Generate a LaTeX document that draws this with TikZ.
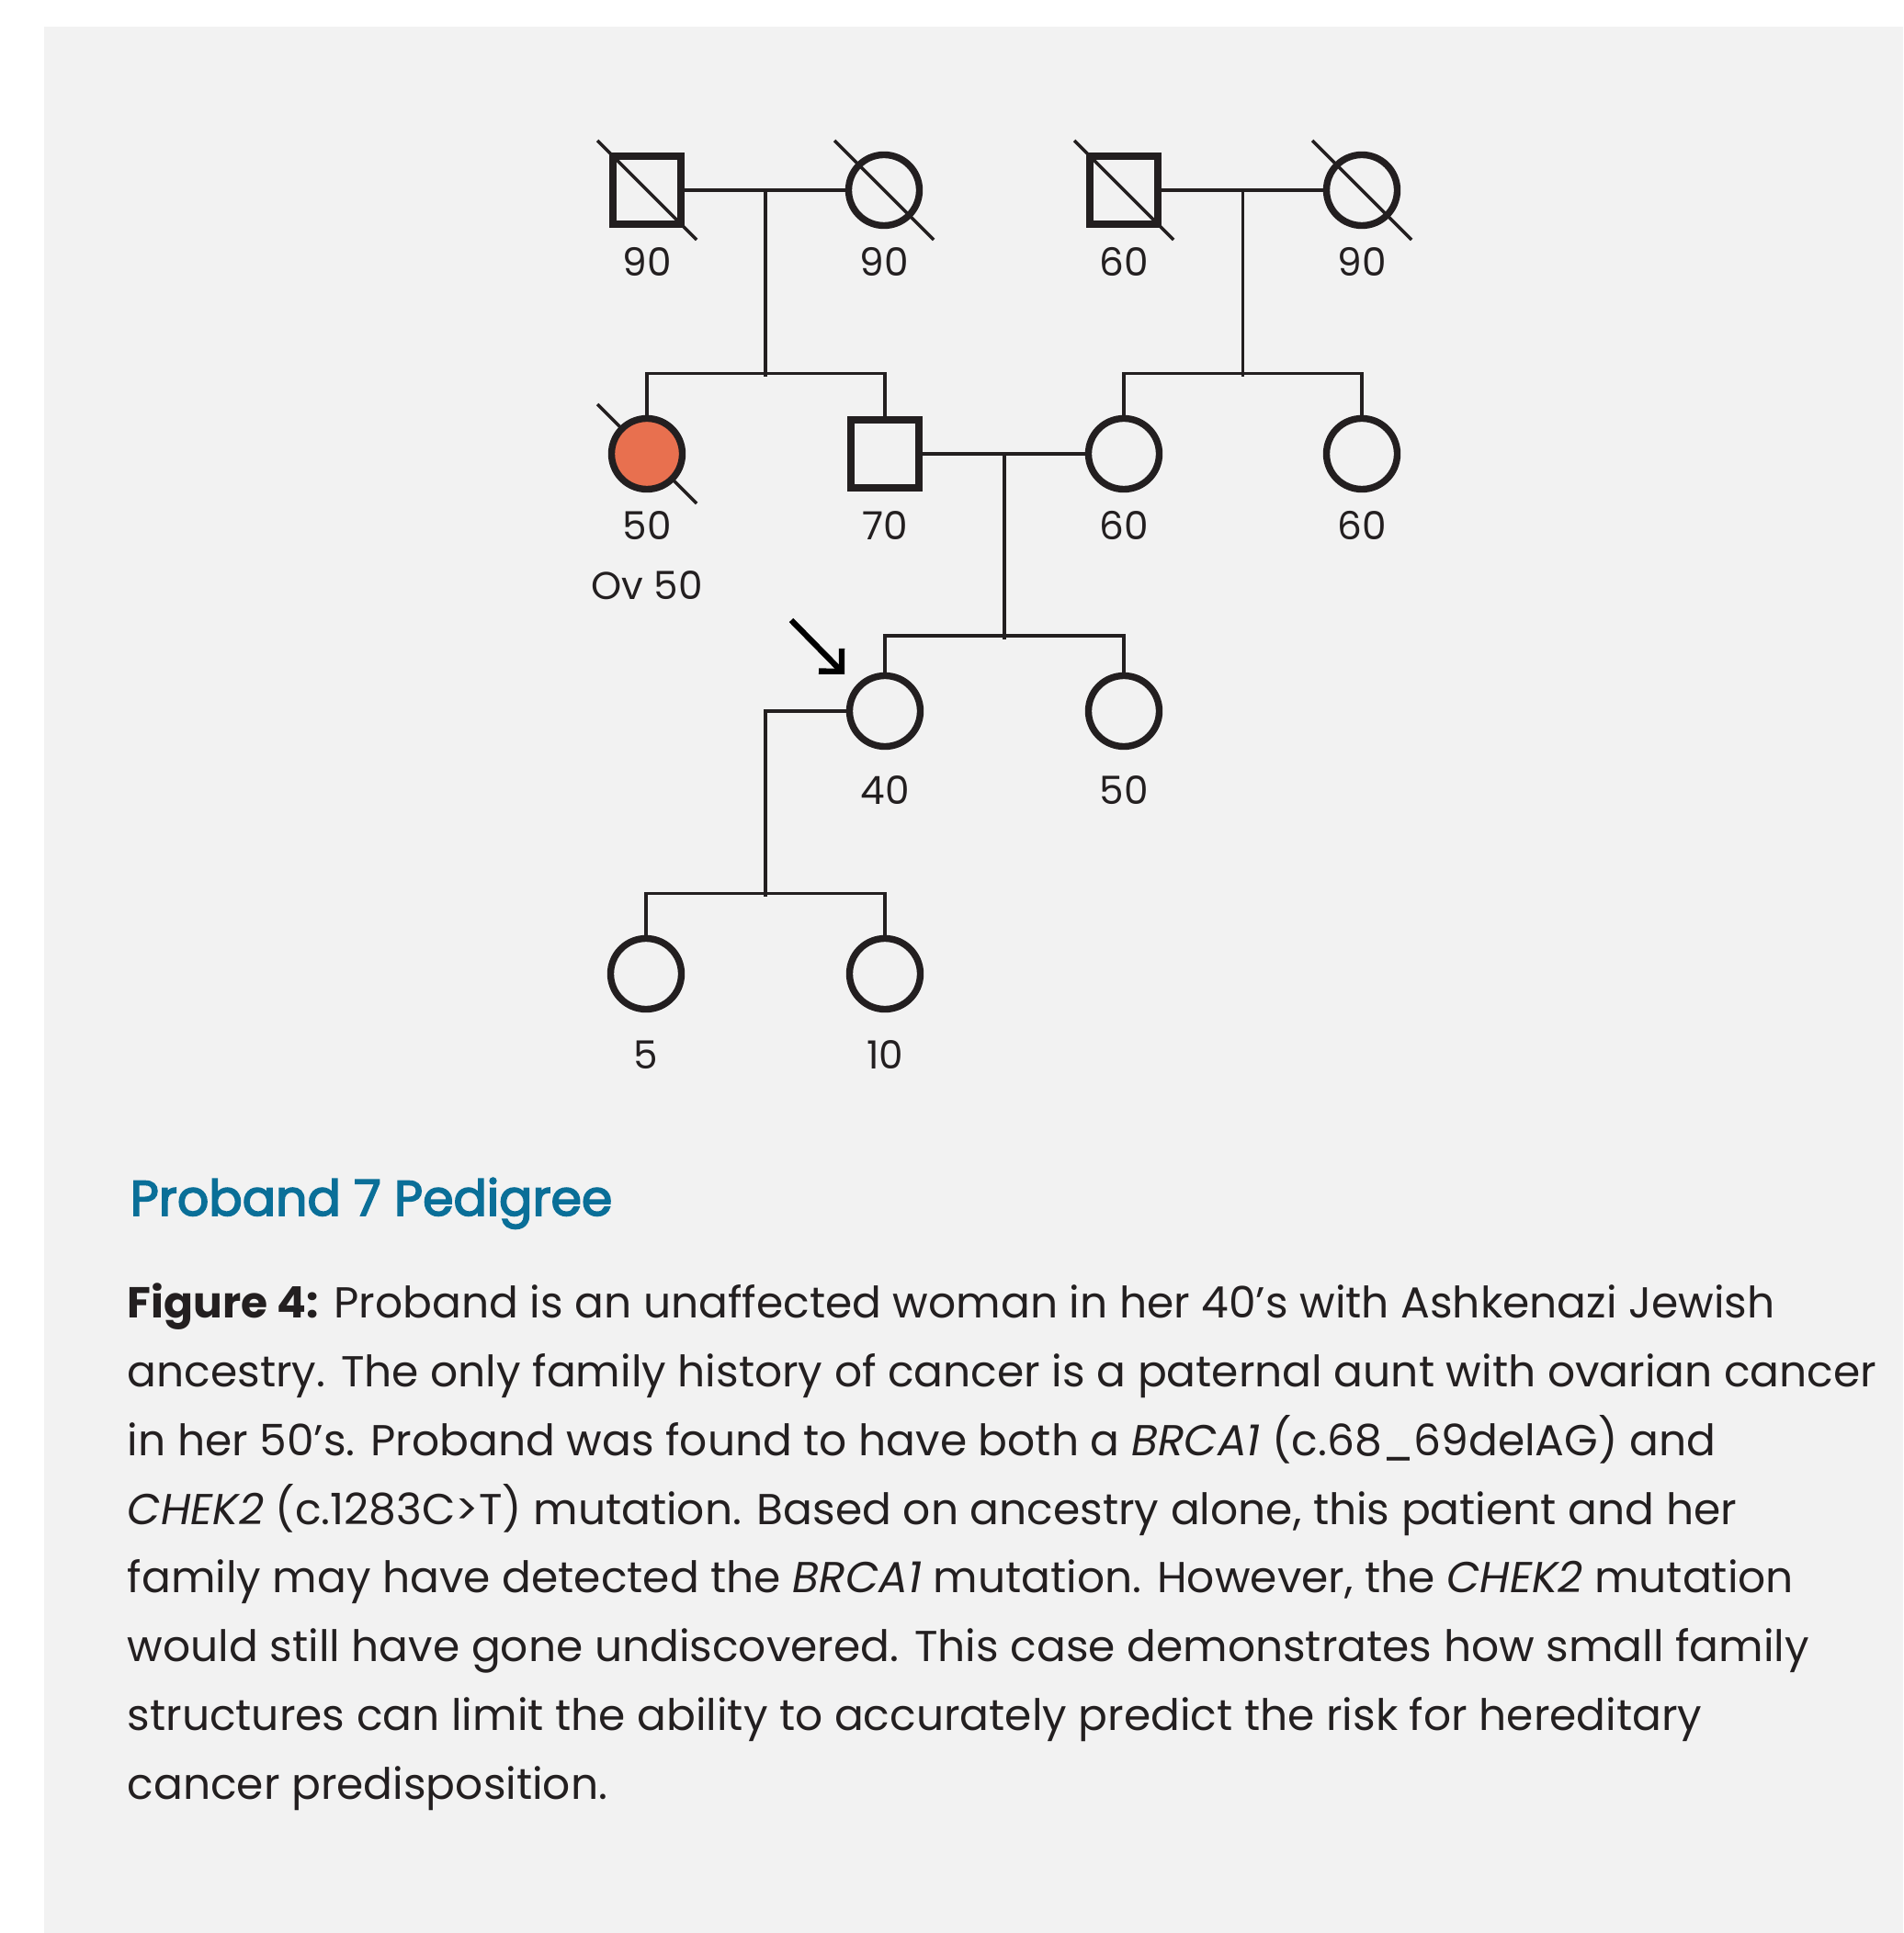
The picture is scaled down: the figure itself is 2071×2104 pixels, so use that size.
\documentclass[tikz,border=0pt]{standalone}
\usepackage{fontspec}
\setmainfont{Poppins}
\newfontfamily\headfont{Poppins}[FakeBold=3]
\usepackage{xcolor}
\usepackage{tikz}
\usetikzlibrary{calc,arrows.meta,backgrounds}
\definecolor{paper}{HTML}{F2F2F2}
\definecolor{ink}{HTML}{231F20}
\definecolor{ovorange}{HTML}{E8704F}
\definecolor{titleblue}{HTML}{0A6F98}
\tikzset{
    person/.style={
        draw=ink,
        line width=2.1pt,
        inner sep=0pt
    },
    male/.style={
        person,
        rectangle,
        minimum size=0.74cm
    },
    female/.style={
        person,
        circle,
        minimum size=0.77cm
    },
    affected/.style={
        fill=ovorange
    },
    link/.style={
        draw=ink,
        line width=1pt
    },
    slash/.style={
        draw=ink,
        line width=1pt
    },
    pointer/.style={
        draw=black,
        line width=1.8pt,
        -{Straight Barb[length=5pt,width=10pt,sharp]}
    },
    age/.style={
        text=ink,
        font=\fontsize{12pt}{14pt}\selectfont,
        inner sep=0pt
    },
    heading/.style={
        text=titleblue,
        font=\fontsize{15.3pt}{18pt}\selectfont\headfont,
        inner sep=0pt
    },
    caption/.style={
        text=ink,
        align=left,
        font=\fontsize{13.4pt}{21.25pt}\selectfont,
        inner sep=0pt
    }
}

\begin{document}
\begin{tikzpicture}[x=0.01cm, y=-0.01cm]
\useasboundingbox (0,0) rectangle (2071,2104);

% generation I
\node[male] (gf1) at (704,207) {};
\node[female] (gm1) at (962,207) {};
\node[male] (gf2) at (1223,207) {};
\node[female] (gm2) at (1482,207) {};

% generation II
\node[female, affected] (aunt) at (704,494) {};
\node[male] (dad) at (963,494) {};
\node[female] (mom) at (1223,494) {};
\node[female] (maunt) at (1482,494) {};

% generation III
\node[female] (proband) at (963,774) {};
\node[female] (sister) at (1223,774) {};

% generation IV
\node[female] (kid1) at (703,1060) {};
\node[female] (kid2) at (963,1060) {};

% ages
\node[age] (agegf1) at ($(gf1)+(0,78)$) {90};
\node[age] (agegm1) at ($(gm1)+(0,78)$) {90};
\node[age] (agegf2) at ($(gf2)+(0,78)$) {60};
\node[age] (agegm2) at ($(gm2)+(0,78)$) {90};
\node[age] (ageaunt) at ($(aunt)+(0,78)$) {50};
\node[age] (cancer) at ($(aunt)+(0,143)$) {Ov 50};
\node[age] (agedad) at ($(dad)+(0,78)$) {70};
\node[age] (agemom) at ($(mom)+(0,78)$) {60};
\node[age] (agemaunt) at ($(maunt)+(0,78)$) {60};
\node[age] (ageproband) at ($(proband)+(0,86)$) {40};
\node[age] (agesister) at ($(sister)+(0,86)$) {50};
\node[age] (agekid1) at ($(kid1)+(0,88)$) {5};
\node[age] (agekid2) at ($(kid2)+(0,88)$) {10};

% couples and sibships
\draw[link] (gf1.east) -- (gm1.west);
\draw[link] ($(gf1)!.5!(gm1)$) -- ++(0,203);
\draw[link] (aunt.north) -- ++(0,-45.5) -| (dad.north);
\draw[link] (gf2.east) -- (gm2.west);
\draw[link] ($(gf2)!.5!(gm2)$) -- ++(0,203);
\draw[link] (mom.north) -- ++(0,-45.5) -| (maunt.north);
\draw[link] (dad.east) -- (mom.west);
\draw[link] ($(dad)!.5!(mom)$) -- ++(0,202);
\draw[link] (proband.north) -- ++(0,-40) -| (sister.north);
\draw[link] (proband.west) -| ($(kid1)!.5!(kid2)+(0,-84)$);
\draw[link] (kid1.north) -- ++(0,-45.5) -| (kid2.north);

% proband arrow
\coordinate (arrowtail) at ($(proband)+(-102,-99)$);
\coordinate (arrowtip) at ($(proband)+(-44,-40)$);
\draw[pointer] (arrowtail) -- (arrowtip);

% text (base of the caption is its last line)
\node[heading, anchor=base west] (title) at (141,1323) {Proband 7 Pedigree};
\node[caption, anchor=base west] (figtext) at (138,1958) {%
\textbf{Figure 4:} Proband is an unaffected woman in her 40’s with Ashkenazi Jewish\\
ancestry. The only family history of cancer is a paternal aunt with ovarian cancer\\
in her 50’s. Proband was found to have both a \textit{BRCA1} (c.68\_69delAG) and\\
\textit{CHEK2} (c.1283C>T) mutation. Based on ancestry alone, this patient and her\\
family may have detected the \textit{BRCA1} mutation. However, the \textit{CHEK2} mutation\\
would still have gone undiscovered. This case demonstrates how small family\\
structures can limit the ability to accurately predict the risk for hereditary\\
cancer predisposition.};

\begin{pgfonlayer}{background}
\fill[paper] (48,29) rectangle (2071,2104);
\foreach \who in {gf1,gm1,gf2,gm2,aunt}
    \draw[slash] (\who) ++(-54,-54) -- ++(108,108);
\end{pgfonlayer}
\end{tikzpicture}
\end{document}
